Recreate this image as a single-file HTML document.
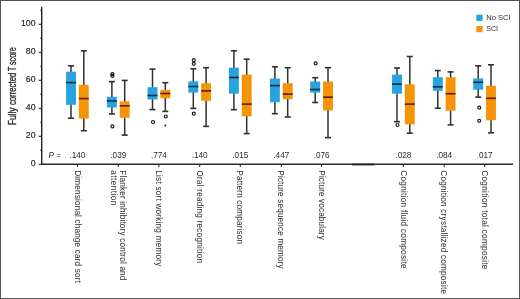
<!DOCTYPE html><html><head><meta charset="utf-8"><style>
html,body{margin:0;padding:0;background:#fff;}
svg{display:block;}
text{font-family:"Liberation Sans",sans-serif;fill:#2b2b2b;}
</style></head><body>
<svg width="520" height="299" viewBox="0 0 520 299">
<defs><filter id="gs" x="-20%" y="-20%" width="140%" height="140%"><feColorMatrix type="saturate" values="0"/></filter></defs>
<rect x="0" y="0" width="520" height="299" fill="#fff"/>
<rect x="0.5" y="0.5" width="519" height="298" fill="none" stroke="#555" stroke-width="1"/>
<line x1="41.7" y1="6.7" x2="41.7" y2="164.9" stroke="#222" stroke-width="1.4"/>
<line x1="41" y1="164.2" x2="513" y2="164.2" stroke="#2a2a2a" stroke-width="1.5"/>
<line x1="352" y1="164.5" x2="374.5" y2="164.5" stroke="#222" stroke-width="1.8"/>
<line x1="38.8" y1="164.30" x2="41.7" y2="164.30" stroke="#222" stroke-width="1.1"/>
<line x1="40.2" y1="150.30" x2="41.7" y2="150.30" stroke="#222" stroke-width="1"/>
<line x1="38.8" y1="136.30" x2="41.7" y2="136.30" stroke="#222" stroke-width="1.1"/>
<line x1="40.2" y1="122.30" x2="41.7" y2="122.30" stroke="#222" stroke-width="1"/>
<line x1="38.8" y1="108.30" x2="41.7" y2="108.30" stroke="#222" stroke-width="1.1"/>
<line x1="40.2" y1="94.30" x2="41.7" y2="94.30" stroke="#222" stroke-width="1"/>
<line x1="38.8" y1="80.30" x2="41.7" y2="80.30" stroke="#222" stroke-width="1.1"/>
<line x1="40.2" y1="66.30" x2="41.7" y2="66.30" stroke="#222" stroke-width="1"/>
<line x1="38.8" y1="52.30" x2="41.7" y2="52.30" stroke="#222" stroke-width="1.1"/>
<line x1="40.2" y1="38.30" x2="41.7" y2="38.30" stroke="#222" stroke-width="1"/>
<line x1="38.8" y1="24.30" x2="41.7" y2="24.30" stroke="#222" stroke-width="1.1"/>
<line x1="40.2" y1="10.30" x2="41.7" y2="10.30" stroke="#222" stroke-width="1"/>
<line x1="77.4" y1="164.2" x2="77.4" y2="167" stroke="#222" stroke-width="1"/>
<line x1="118.3" y1="164.2" x2="118.3" y2="167" stroke="#222" stroke-width="1"/>
<line x1="158.9" y1="164.2" x2="158.9" y2="167" stroke="#222" stroke-width="1"/>
<line x1="199.7" y1="164.2" x2="199.7" y2="167" stroke="#222" stroke-width="1"/>
<line x1="240.3" y1="164.2" x2="240.3" y2="167" stroke="#222" stroke-width="1"/>
<line x1="281.3" y1="164.2" x2="281.3" y2="167" stroke="#222" stroke-width="1"/>
<line x1="321.6" y1="164.2" x2="321.6" y2="167" stroke="#222" stroke-width="1"/>
<line x1="403.4" y1="164.2" x2="403.4" y2="167" stroke="#222" stroke-width="1"/>
<line x1="444.2" y1="164.2" x2="444.2" y2="167" stroke="#222" stroke-width="1"/>
<line x1="484.6" y1="164.2" x2="484.6" y2="167" stroke="#222" stroke-width="1"/>
<line x1="71.00" y1="65.80" x2="71.00" y2="118.20" stroke="#303030" stroke-width="1.5"/>
<line x1="68.00" y1="65.80" x2="74.00" y2="65.80" stroke="#303030" stroke-width="1.6"/>
<line x1="68.00" y1="118.20" x2="74.00" y2="118.20" stroke="#303030" stroke-width="1.6"/>
<rect x="66.05" y="71.70" width="9.90" height="33.10" fill="#29a3e0"/>
<line x1="66.05" y1="82.60" x2="75.95" y2="82.60" stroke="#0d2c40" stroke-width="1.6"/>
<line x1="83.80" y1="50.80" x2="83.80" y2="130.70" stroke="#303030" stroke-width="1.5"/>
<line x1="80.80" y1="50.80" x2="86.80" y2="50.80" stroke="#303030" stroke-width="1.6"/>
<line x1="80.80" y1="130.70" x2="86.80" y2="130.70" stroke="#303030" stroke-width="1.6"/>
<rect x="78.85" y="84.80" width="9.90" height="33.80" fill="#f69405"/>
<line x1="78.85" y1="98.60" x2="88.75" y2="98.60" stroke="#5a1e00" stroke-width="1.6"/>
<line x1="111.90" y1="81.60" x2="111.90" y2="113.90" stroke="#303030" stroke-width="1.5"/>
<line x1="108.90" y1="81.60" x2="114.90" y2="81.60" stroke="#303030" stroke-width="1.6"/>
<line x1="108.90" y1="113.90" x2="114.90" y2="113.90" stroke="#303030" stroke-width="1.6"/>
<rect x="106.95" y="96.80" width="9.90" height="10.70" fill="#29a3e0"/>
<line x1="106.95" y1="100.90" x2="116.85" y2="100.90" stroke="#0d2c40" stroke-width="1.6"/>
<line x1="124.70" y1="80.40" x2="124.70" y2="135.10" stroke="#303030" stroke-width="1.5"/>
<line x1="121.70" y1="80.40" x2="127.70" y2="80.40" stroke="#303030" stroke-width="1.6"/>
<line x1="121.70" y1="135.10" x2="127.70" y2="135.10" stroke="#303030" stroke-width="1.6"/>
<rect x="119.75" y="101.40" width="9.90" height="16.40" fill="#f69405"/>
<line x1="119.75" y1="105.80" x2="129.65" y2="105.80" stroke="#5a1e00" stroke-width="1.6"/>
<line x1="152.50" y1="69.10" x2="152.50" y2="109.60" stroke="#303030" stroke-width="1.5"/>
<line x1="149.50" y1="69.10" x2="155.50" y2="69.10" stroke="#303030" stroke-width="1.6"/>
<line x1="149.50" y1="109.60" x2="155.50" y2="109.60" stroke="#303030" stroke-width="1.6"/>
<rect x="147.55" y="87.20" width="9.90" height="12.30" fill="#29a3e0"/>
<line x1="147.55" y1="95.50" x2="157.45" y2="95.50" stroke="#0d2c40" stroke-width="1.6"/>
<line x1="165.30" y1="82.70" x2="165.30" y2="111.40" stroke="#303030" stroke-width="1.5"/>
<line x1="162.30" y1="82.70" x2="168.30" y2="82.70" stroke="#303030" stroke-width="1.6"/>
<line x1="162.30" y1="111.40" x2="168.30" y2="111.40" stroke="#303030" stroke-width="1.6"/>
<rect x="160.35" y="89.90" width="9.90" height="8.40" fill="#f69405"/>
<line x1="160.35" y1="93.50" x2="170.25" y2="93.50" stroke="#5a1e00" stroke-width="1.6"/>
<line x1="193.30" y1="68.80" x2="193.30" y2="108.40" stroke="#303030" stroke-width="1.5"/>
<line x1="190.30" y1="68.80" x2="196.30" y2="68.80" stroke="#303030" stroke-width="1.6"/>
<line x1="190.30" y1="108.40" x2="196.30" y2="108.40" stroke="#303030" stroke-width="1.6"/>
<rect x="188.35" y="81.40" width="9.90" height="11.20" fill="#29a3e0"/>
<line x1="188.35" y1="86.50" x2="198.25" y2="86.50" stroke="#0d2c40" stroke-width="1.6"/>
<line x1="206.10" y1="67.70" x2="206.10" y2="126.40" stroke="#303030" stroke-width="1.5"/>
<line x1="203.10" y1="67.70" x2="209.10" y2="67.70" stroke="#303030" stroke-width="1.6"/>
<line x1="203.10" y1="126.40" x2="209.10" y2="126.40" stroke="#303030" stroke-width="1.6"/>
<rect x="201.15" y="83.30" width="9.90" height="17.50" fill="#f69405"/>
<line x1="201.15" y1="90.90" x2="211.05" y2="90.90" stroke="#5a1e00" stroke-width="1.6"/>
<line x1="233.90" y1="50.80" x2="233.90" y2="109.70" stroke="#303030" stroke-width="1.5"/>
<line x1="230.90" y1="50.80" x2="236.90" y2="50.80" stroke="#303030" stroke-width="1.6"/>
<line x1="230.90" y1="109.70" x2="236.90" y2="109.70" stroke="#303030" stroke-width="1.6"/>
<rect x="228.95" y="67.70" width="9.90" height="26.00" fill="#29a3e0"/>
<line x1="228.95" y1="77.50" x2="238.85" y2="77.50" stroke="#0d2c40" stroke-width="1.6"/>
<line x1="246.70" y1="59.20" x2="246.70" y2="133.60" stroke="#303030" stroke-width="1.5"/>
<line x1="243.70" y1="59.20" x2="249.70" y2="59.20" stroke="#303030" stroke-width="1.6"/>
<line x1="243.70" y1="133.60" x2="249.70" y2="133.60" stroke="#303030" stroke-width="1.6"/>
<rect x="241.75" y="74.60" width="9.90" height="41.70" fill="#f69405"/>
<line x1="241.75" y1="104.10" x2="251.65" y2="104.10" stroke="#5a1e00" stroke-width="1.6"/>
<line x1="274.90" y1="66.80" x2="274.90" y2="113.70" stroke="#303030" stroke-width="1.5"/>
<line x1="271.90" y1="66.80" x2="277.90" y2="66.80" stroke="#303030" stroke-width="1.6"/>
<line x1="271.90" y1="113.70" x2="277.90" y2="113.70" stroke="#303030" stroke-width="1.6"/>
<rect x="269.95" y="78.60" width="9.90" height="23.60" fill="#29a3e0"/>
<line x1="269.95" y1="85.60" x2="279.85" y2="85.60" stroke="#0d2c40" stroke-width="1.6"/>
<line x1="287.70" y1="67.70" x2="287.70" y2="116.90" stroke="#303030" stroke-width="1.5"/>
<line x1="284.70" y1="67.70" x2="290.70" y2="67.70" stroke="#303030" stroke-width="1.6"/>
<line x1="284.70" y1="116.90" x2="290.70" y2="116.90" stroke="#303030" stroke-width="1.6"/>
<rect x="282.75" y="83.20" width="9.90" height="16.00" fill="#f69405"/>
<line x1="282.75" y1="94.10" x2="292.65" y2="94.10" stroke="#5a1e00" stroke-width="1.6"/>
<line x1="315.20" y1="77.70" x2="315.20" y2="102.50" stroke="#303030" stroke-width="1.5"/>
<line x1="312.20" y1="77.70" x2="318.20" y2="77.70" stroke="#303030" stroke-width="1.6"/>
<line x1="312.20" y1="102.50" x2="318.20" y2="102.50" stroke="#303030" stroke-width="1.6"/>
<rect x="310.25" y="81.50" width="9.90" height="11.10" fill="#29a3e0"/>
<line x1="310.25" y1="89.50" x2="320.15" y2="89.50" stroke="#0d2c40" stroke-width="1.6"/>
<line x1="328.00" y1="67.70" x2="328.00" y2="137.60" stroke="#303030" stroke-width="1.5"/>
<line x1="325.00" y1="67.70" x2="331.00" y2="67.70" stroke="#303030" stroke-width="1.6"/>
<line x1="325.00" y1="137.60" x2="331.00" y2="137.60" stroke="#303030" stroke-width="1.6"/>
<rect x="323.05" y="81.50" width="9.90" height="29.00" fill="#f69405"/>
<line x1="323.05" y1="97.20" x2="332.95" y2="97.20" stroke="#5a1e00" stroke-width="1.6"/>
<line x1="397.00" y1="68.00" x2="397.00" y2="121.70" stroke="#303030" stroke-width="1.5"/>
<line x1="394.00" y1="68.00" x2="400.00" y2="68.00" stroke="#303030" stroke-width="1.6"/>
<line x1="394.00" y1="121.70" x2="400.00" y2="121.70" stroke="#303030" stroke-width="1.6"/>
<rect x="392.05" y="74.60" width="9.90" height="19.10" fill="#29a3e0"/>
<line x1="392.05" y1="84.10" x2="401.95" y2="84.10" stroke="#0d2c40" stroke-width="1.6"/>
<line x1="409.80" y1="56.50" x2="409.80" y2="133.20" stroke="#303030" stroke-width="1.5"/>
<line x1="406.80" y1="56.50" x2="412.80" y2="56.50" stroke="#303030" stroke-width="1.6"/>
<line x1="406.80" y1="133.20" x2="412.80" y2="133.20" stroke="#303030" stroke-width="1.6"/>
<rect x="404.85" y="84.30" width="9.90" height="40.10" fill="#f69405"/>
<line x1="404.85" y1="104.10" x2="414.75" y2="104.10" stroke="#5a1e00" stroke-width="1.6"/>
<line x1="437.80" y1="70.60" x2="437.80" y2="108.20" stroke="#303030" stroke-width="1.5"/>
<line x1="434.80" y1="70.60" x2="440.80" y2="70.60" stroke="#303030" stroke-width="1.6"/>
<line x1="434.80" y1="108.20" x2="440.80" y2="108.20" stroke="#303030" stroke-width="1.6"/>
<rect x="432.85" y="77.20" width="9.90" height="13.60" fill="#29a3e0"/>
<line x1="432.85" y1="86.80" x2="442.75" y2="86.80" stroke="#0d2c40" stroke-width="1.6"/>
<line x1="450.60" y1="71.90" x2="450.60" y2="124.90" stroke="#303030" stroke-width="1.5"/>
<line x1="447.60" y1="71.90" x2="453.60" y2="71.90" stroke="#303030" stroke-width="1.6"/>
<line x1="447.60" y1="124.90" x2="453.60" y2="124.90" stroke="#303030" stroke-width="1.6"/>
<rect x="445.65" y="77.20" width="9.90" height="33.50" fill="#f69405"/>
<line x1="445.65" y1="93.70" x2="455.55" y2="93.70" stroke="#5a1e00" stroke-width="1.6"/>
<line x1="478.20" y1="65.80" x2="478.20" y2="97.10" stroke="#303030" stroke-width="1.5"/>
<line x1="475.20" y1="65.80" x2="481.20" y2="65.80" stroke="#303030" stroke-width="1.6"/>
<line x1="475.20" y1="97.10" x2="481.20" y2="97.10" stroke="#303030" stroke-width="1.6"/>
<rect x="473.25" y="78.40" width="9.90" height="11.30" fill="#29a3e0"/>
<line x1="473.25" y1="82.30" x2="483.15" y2="82.30" stroke="#0d2c40" stroke-width="1.6"/>
<line x1="491.00" y1="64.80" x2="491.00" y2="132.80" stroke="#303030" stroke-width="1.5"/>
<line x1="488.00" y1="64.80" x2="494.00" y2="64.80" stroke="#303030" stroke-width="1.6"/>
<line x1="488.00" y1="132.80" x2="494.00" y2="132.80" stroke="#303030" stroke-width="1.6"/>
<rect x="486.05" y="85.80" width="9.90" height="34.40" fill="#f69405"/>
<line x1="486.05" y1="98.30" x2="495.95" y2="98.30" stroke="#5a1e00" stroke-width="1.6"/>
<circle cx="112.40" cy="74.20" r="1.5" fill="none" stroke="#1a1a1a" stroke-width="1.2"/>
<circle cx="112.40" cy="75.90" r="1.5" fill="none" stroke="#1a1a1a" stroke-width="1.2"/>
<circle cx="112.40" cy="126.40" r="1.5" fill="none" stroke="#1a1a1a" stroke-width="1.2"/>
<circle cx="153.00" cy="122.00" r="1.5" fill="none" stroke="#1a1a1a" stroke-width="1.2"/>
<circle cx="165.80" cy="116.50" r="1.5" fill="none" stroke="#1a1a1a" stroke-width="1.2"/>
<circle cx="193.80" cy="60.20" r="1.5" fill="none" stroke="#1a1a1a" stroke-width="1.2"/>
<circle cx="193.80" cy="63.80" r="1.5" fill="none" stroke="#1a1a1a" stroke-width="1.2"/>
<circle cx="193.80" cy="113.70" r="1.5" fill="none" stroke="#1a1a1a" stroke-width="1.2"/>
<circle cx="315.70" cy="63.40" r="1.5" fill="none" stroke="#1a1a1a" stroke-width="1.2"/>
<circle cx="397.50" cy="125.00" r="1.5" fill="none" stroke="#1a1a1a" stroke-width="1.2"/>
<circle cx="479.20" cy="107.70" r="1.5" fill="none" stroke="#1a1a1a" stroke-width="1.2"/>
<circle cx="479.20" cy="120.80" r="1.5" fill="none" stroke="#1a1a1a" stroke-width="1.2"/>
<circle cx="165.30" cy="125.50" r="1.0" fill="#222"/>
<rect x="476.3" y="14.7" width="6.3" height="6.2" fill="#29a3e0"/>
<rect x="476.3" y="26" width="6.3" height="6.2" fill="#f69405"/>
<g filter="url(#gs)">
<text x="35.6" y="166.00" font-size="8.8" text-anchor="end" stroke="#2b2b2b" stroke-width="0.2">0</text>
<text x="35.6" y="138.00" font-size="8.8" text-anchor="end" stroke="#2b2b2b" stroke-width="0.2">20</text>
<text x="35.6" y="110.00" font-size="8.8" text-anchor="end" stroke="#2b2b2b" stroke-width="0.2">40</text>
<text x="35.6" y="82.00" font-size="8.8" text-anchor="end" stroke="#2b2b2b" stroke-width="0.2">60</text>
<text x="35.6" y="54.00" font-size="8.8" text-anchor="end" stroke="#2b2b2b" stroke-width="0.2">80</text>
<text x="35.6" y="26.00" font-size="8.8" text-anchor="end" stroke="#2b2b2b" stroke-width="0.2">100</text>
<text transform="translate(15.6,125.3) rotate(-90)" font-size="10" textLength="17.9" lengthAdjust="spacingAndGlyphs" stroke="#2b2b2b" stroke-width="0.35">Fully</text>
<text transform="translate(15.6,105.1) rotate(-90)" font-size="10" textLength="32.4" lengthAdjust="spacingAndGlyphs" stroke="#2b2b2b" stroke-width="0.35">corrected</text>
<text transform="translate(15.6,71.1) rotate(-90)" font-size="10" textLength="4.3" lengthAdjust="spacingAndGlyphs" stroke="#2b2b2b" stroke-width="0.35">T</text>
<text transform="translate(15.6,65.1) rotate(-90)" font-size="10" textLength="17.8" lengthAdjust="spacingAndGlyphs" stroke="#2b2b2b" stroke-width="0.35">score</text>
<text x="48.6" y="157.6" font-size="8.2" font-style="italic">P</text>
<text x="56.3" y="157.6" font-size="8.2">=</text>
<text x="77.40" y="157.6" font-size="8.2" text-anchor="middle">.140</text>
<text x="118.30" y="157.6" font-size="8.2" text-anchor="middle">.039</text>
<text x="158.90" y="157.6" font-size="8.2" text-anchor="middle">.774</text>
<text x="199.70" y="157.6" font-size="8.2" text-anchor="middle">.140</text>
<text x="240.30" y="157.6" font-size="8.2" text-anchor="middle">.015</text>
<text x="281.30" y="157.6" font-size="8.2" text-anchor="middle">.447</text>
<text x="321.60" y="157.6" font-size="8.2" text-anchor="middle">.076</text>
<text x="403.40" y="157.6" font-size="8.2" text-anchor="middle">.028</text>
<text x="444.20" y="157.6" font-size="8.2" text-anchor="middle">.084</text>
<text x="484.60" y="157.6" font-size="8.2" text-anchor="middle">.017</text>
<text transform="translate(74.50,170.3) rotate(90)" font-size="8.2" textLength="112.5" lengthAdjust="spacing">Dimensional change card sort</text>
<text transform="translate(120.40,170.3) rotate(90)" font-size="8.2" textLength="110.1" lengthAdjust="spacing">Flanker inhibitory control and</text>
<text transform="translate(110.80,170.3) rotate(90)" font-size="8.2" textLength="35.0" lengthAdjust="spacing">attention</text>
<text transform="translate(156.00,170.3) rotate(90)" font-size="8.2" textLength="96.0" lengthAdjust="spacing">List sort working memory</text>
<text transform="translate(196.80,170.3) rotate(90)" font-size="8.2" textLength="92.7" lengthAdjust="spacing">Oral reading recognition</text>
<text transform="translate(237.40,170.3) rotate(90)" font-size="8.2" textLength="73.8" lengthAdjust="spacing">Pattern comparison</text>
<text transform="translate(278.40,170.3) rotate(90)" font-size="8.2" textLength="98.4" lengthAdjust="spacing">Picture sequence memory</text>
<text transform="translate(318.70,170.3) rotate(90)" font-size="8.2" textLength="69.5" lengthAdjust="spacing">Picture vocabulary</text>
<text transform="translate(400.50,170.3) rotate(90)" font-size="8.2" textLength="98.2" lengthAdjust="spacing">Cognition fluid composite</text>
<text transform="translate(441.30,170.3) rotate(90)" font-size="8.2" textLength="123.7" lengthAdjust="spacing">Cognition crystallized composite</text>
<text transform="translate(481.70,170.3) rotate(90)" font-size="8.2" textLength="99.1" lengthAdjust="spacing">Cognition total composite</text>
<text x="486.2" y="19.9" font-size="8.1" textLength="24.4" lengthAdjust="spacingAndGlyphs">No SCI</text>
<text x="486.2" y="31.3" font-size="8.1" textLength="11.9" lengthAdjust="spacingAndGlyphs">SCI</text>
</g>
</svg></body></html>
